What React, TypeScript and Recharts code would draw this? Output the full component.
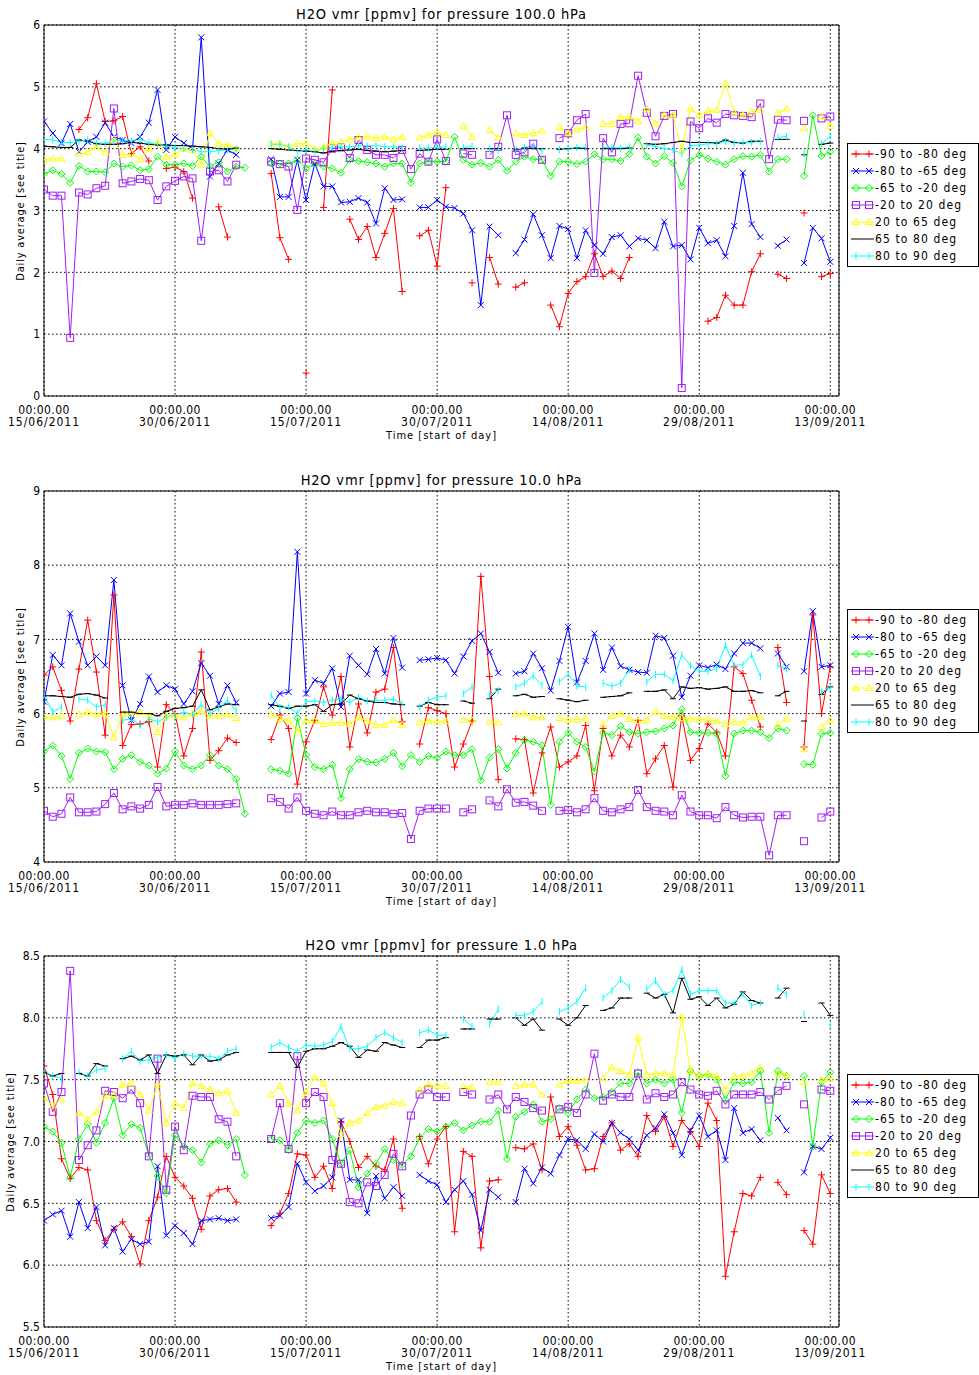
import React from "react";
import { LineChart, Line, XAxis, YAxis, CartesianGrid, ReferenceArea } from "recharts";

const FONT = "'DejaVu Sans Condensed', 'DejaVu Sans', sans-serif";

// days since 15/06/2011 (start of day)
const days = Array.from({ length: 91 }, (_, i) => i);
const tickDays = [0, 15, 30, 45, 60, 75, 90];
const tickDates = ["15/06/2011", "30/06/2011", "15/07/2011", "30/07/2011", "14/08/2011", "29/08/2011", "13/09/2011"];

const bandLabels = ["-90 to -80 deg", "-80 to -65 deg", "-65 to -20 deg", "-20 to 20 deg", "20 to 65 deg", "65 to 80 deg", "80 to 90 deg"];
const bandColors = ["#ff0000", "#0000ff", "#00ff00", "#a020f0", "#ffff00", "#000000", "#00ffff"];
const bandMarkers = ["plus", "cross", "diamond", "square", "triangle", "dash", "bar"];

const _ = null;

// ---- 100 hPa ----
const red100 = [
  _, _, _, _, 4.31, 4.5, 5.05, 4.44, 4.45, 4.52,
  3.92, 4.03, 3.8, _, 3.68, 3.7, 3.63, 3.2, _, _,
  3.06, 2.57, _, _, _, _, 3.6, 2.56, 2.21, _,
  0.37, _, 3.05, 4.95, _, 2.86, 2.53, 2.74, 2.24, 2.63,
  3.03, 1.69, _, 2.59, 2.68, 2.1, 3.37, _, _, 1.83,
  _, 2.24, 1.81, _, 1.76, 1.83, _, _, 1.47, 1.12,
  1.66, 1.85, 1.93, 2.3, 1.93, 2.02, 1.9, 2.24, _, _,
  _, _, _, _, _, _, 1.21, 1.27, 1.63, 1.47,
  1.47, 2.01, 2.3, _, 1.97, 1.9, _, 2.96, _, 1.93, 1.98,
];
const blue100 = [
  4.44, 4.25, 4.09, 4.4, 3.95, 4.11, 4.19, 4.42, 4.19, 4.14,
  4.09, 4.19, 4.42, 4.95, 3.98, 4.19, 4.09, 4.0, 5.8, 3.55,
  3.76, 3.98, 3.9, _, _, _, 3.83, 3.22, 3.22, 3.82,
  3.17, 3.76, 3.39, 3.39, 3.13, 3.14, 3.2, 3.13, 2.79, 3.36,
  3.17, 3.18, _, 3.05, 3.05, 3.17, 3.06, 3.04, 2.95, 2.68,
  1.47, 2.74, 2.6, _, 2.31, 2.53, 2.94, 2.6, 2.23, 2.75,
  2.7, 2.23, 2.68, 2.44, 2.3, 2.57, 2.6, 2.42, 2.55, 2.52,
  2.39, 2.82, 2.42, 2.44, 2.21, 2.72, 2.47, 2.52, 2.26, 2.75,
  3.61, 2.78, 2.57, _, 2.43, 2.53, _, 2.15, 2.72, 2.55, 2.17,
];
const green100 = [
  3.59, 3.65, 3.59, 3.45, 3.72, 3.63, 3.63, 3.62, 3.76, 3.71,
  3.73, 3.65, 3.67, 3.87, 3.74, 3.74, 3.76, 3.72, 3.87, 3.71,
  3.78, 3.63, 3.71, 3.69, _, _, 3.76, 3.76, 3.76, 3.82,
  3.68, 3.76, 3.71, 3.68, 3.61, 3.82, 3.8, 3.78, 3.76, 3.71,
  3.76, 3.76, 3.45, 3.76, 3.79, 3.79, 3.79, 4.19, 3.82, 3.74,
  3.77, 3.71, 3.82, 3.64, 3.79, 3.87, 3.83, 3.82, 3.56, 3.79,
  3.79, 3.75, 3.79, 3.91, 3.83, 3.83, 3.8, 3.91, 4.18, 3.87,
  3.76, 3.88, 3.77, 3.39, 3.81, 3.9, 3.84, 3.79, 3.74, 3.83,
  3.88, 3.87, 3.9, 3.63, 3.83, 3.83, _, 3.56, 4.54, 3.88, 3.95,
];
const purple100 = [
  3.34, 3.24, 3.24, 0.94, 3.29, 3.26, 3.36, 3.4, 4.65, 3.44,
  3.47, 3.51, 3.49, 3.17, 3.39, 3.48, 3.55, 3.52, 2.51, 3.63,
  3.65, 3.47, 3.74, _, _, _, 3.79, 3.75, 3.71, 3.01,
  3.84, 3.82, 3.78, 4.0, 4.02, 3.85, 4.14, 3.98, 3.9, 3.9,
  3.85, 3.98, 3.67, 3.92, 3.79, 4.15, 3.8, _, 3.92, 3.9,
  _, 3.9, 4.03, 4.54, 3.9, 3.94, 4.08, 3.82, _, 4.17,
  4.25, 4.46, 4.56, 1.99, 4.17, 3.94, 4.4, 4.41, 5.18, 4.58,
  4.2, 4.53, 4.56, 0.13, 4.44, 4.33, 4.49, 4.42, 4.56, 4.54,
  4.53, 4.51, 4.73, 3.83, 4.47, 4.46, _, 4.45, _, 4.49, 4.52,
];
const yellow100 = [
  3.82, 3.84, 3.84, _, 3.92, 3.95, 4.03, 3.94, 4.15, 3.9,
  3.92, 3.83, 4.0, 4.11, 3.87, 3.9, 4.0, 3.98, 3.74, 4.25,
  4.08, 4.06, 4.0, _, _, _, 4.08, 4.08, 4.03, 4.08,
  4.08, 4.0, 4.03, 4.09, 4.11, 4.15, 4.18, 4.2, 4.17, 4.19,
  4.15, 4.19, _, 4.18, 4.22, 4.27, 4.22, _, 4.37, 4.19,
  _, 4.3, 4.18, _, 4.25, 4.22, 4.25, 4.29, _, 4.35,
  4.25, 4.31, 4.35, _, 4.4, 4.4, 4.51, 4.52, 4.44, 4.64,
  4.4, 4.54, 4.54, 3.97, 4.65, 4.54, 4.61, 4.63, 5.06, 4.58,
  4.54, 4.6, 4.63, _, 4.58, 4.65, _, 4.33, _, 4.52, 4.37,
];
const black100 = [
  4.04, 4.03, 4.02, 4.02, 4.14, 4.12, 4.08, 4.07, 4.07, 4.08,
  4.1, 4.09, 4.07, 4.06, 4.06, 4.05, 4.05, 4.04, 4.03, 4.02,
  4.0, 3.99, 4.01, _, _, _, 4.0, 3.99, 3.98, 3.97,
  3.96, 3.95, 3.93, 3.96, 3.97, 3.98, 3.99, 3.97, 3.96, 3.95,
  3.96, 3.97, _, 3.97, 3.98, 3.99, 3.99, _, 4.0, 4.0,
  _, 4.0, 4.0, _, 3.98, 4.01, 4.0, 4.0, _, 3.99,
  4.0, 4.01, 4.0, _, 4.0, 4.0, 4.0, 4.01, _, 4.08,
  4.07, 4.08, 4.1, 4.12, 4.1, 4.1, 4.1, 4.09, 4.14, 4.1,
  4.09, 4.12, 4.12, _, 4.15, 4.15, _, 3.9, _, 4.07, 4.09,
];
const cyan100 = [
  4.15, 4.14, 4.1, 4.1, 4.12, 4.14, 4.09, 4.09, 4.12, 4.14,
  4.12, 4.15, 4.1, 4.07, 4.04, 4.02, 4.0, 3.98, 3.95, 3.95,
  3.97, 3.98, 3.99, _, _, _, 4.07, 4.07, 4.03, 3.95,
  3.98, 3.96, 4.0, 4.02, 4.03, 4.03, 4.05, 4.04, 4.05, 4.03,
  4.03, 4.02, _, 4.01, 4.01, 4.02, 4.03, _, 4.02, 4.04,
  _, 4.0, 3.98, _, 3.98, 4.02, 4.05, 3.96, _, 3.98,
  4.0, 4.02, 4.02, _, 4.02, 4.02, 4.01, 4.03, _, 4.05,
  4.04, 4.0, 3.98, 3.92, 4.05, 4.06, 4.08, 4.08, 4.12, 4.09,
  4.1, 4.1, 4.12, _, 4.18, 4.2, _, 3.92, _, 4.08, 4.2,
];

// ---- 10 hPa ----
const red10 = [
  6.52, 6.63, 6.31, 5.9, 6.6, 7.26, 6.56, 5.71, 7.6, 5.57,
  5.85, 5.86, 5.89, 5.28, 6.12, 6.0, 5.43, 5.8, 6.83, 5.37,
  5.5, 5.67, 5.61, _, _, _, 5.65, 5.98, 5.8, 5.05,
  5.62, 5.91, 6.36, 5.98, 6.5, 5.55, 6.13, 5.74, 6.29, 6.33,
  6.89, 5.89, _, 5.59, 6.08, 6.04, 6.0, 5.28, 5.59, 5.9,
  7.85, 6.5, 5.11, _, 5.66, 5.65, 4.93, 5.47, 5.82, 5.28,
  5.35, 5.43, 5.84, 4.96, 5.8, 5.43, 5.71, 5.55, 5.91, 5.19,
  5.39, 5.57, 5.01, 5.97, 5.37, 5.53, 5.86, 5.75, 5.43, 6.63,
  6.54, 6.18, 5.82, _, 6.89, 6.15, _, 5.55, 7.33, 6.0, 6.63,
];
const blue10 = [
  6.16, 6.79, 6.65, 7.35, 6.97, 6.65, 6.77, 6.65, 7.8, 6.38,
  5.91, 6.13, 6.5, 6.29, 6.38, 6.33, 6.13, 6.3, 6.68, 6.51,
  6.13, 6.38, 6.15, _, _, _, 6.1, 6.27, 6.29, 8.18,
  6.27, 6.45, 6.41, 6.61, 6.09, 6.78, 6.65, 6.53, 6.87, 6.54,
  7.02, 6.62, _, 6.72, 6.73, 6.75, 6.72, 6.54, 6.77, 6.98,
  7.08, 6.83, 6.55, _, 6.54, 6.57, 6.81, 6.61, 6.31, 6.71,
  7.17, 6.42, 6.71, 7.08, 6.59, 6.89, 6.64, 6.59, 6.56, 6.55,
  7.05, 7.02, 6.78, 6.22, 6.51, 6.65, 6.62, 6.66, 6.6, 6.81,
  6.95, 6.95, 6.88, _, 6.81, 6.63, _, 6.57, 7.38, 6.63, 6.65,
];
const green10 = [
  5.49, 5.57, 5.43, 5.12, 5.47, 5.53, 5.49, 5.48, 5.25, 5.39,
  5.44, 5.35, 5.3, 5.19, 5.26, 5.49, 5.3, 5.25, 5.3, 5.44,
  5.3, 5.25, 5.12, 4.65, _, _, 5.25, 5.23, 5.19, 5.94,
  5.44, 5.28, 5.25, 5.31, 4.86, 5.25, 5.39, 5.35, 5.34, 5.39,
  5.47, 5.29, 5.44, 5.35, 5.43, 5.4, 5.49, 5.44, 5.44, 5.52,
  5.1, 5.41, 5.52, 5.26, 5.47, 5.64, 5.62, 5.57, 4.77, 5.62,
  5.74, 5.62, 5.55, 5.22, 5.74, 5.71, 5.83, 5.75, 5.73, 5.75,
  5.76, 5.8, 5.84, 6.06, 5.75, 5.74, 5.74, 5.73, 5.16, 5.73,
  5.77, 5.77, 5.75, 5.67, 5.8, 5.77, _, 5.32, 5.31, 5.73, 5.74,
];
const purple10 = [
  4.69, 4.61, 4.65, 4.87, 4.67, 4.67, 4.68, 4.78, 4.93, 4.71,
  4.75, 4.72, 4.77, 5.01, 4.75, 4.77, 4.77, 4.79, 4.77, 4.77,
  4.77, 4.78, 4.79, _, _, _, 4.86, 4.81, 4.72, 4.87,
  4.69, 4.65, 4.63, 4.68, 4.63, 4.63, 4.67, 4.69, 4.67, 4.67,
  4.65, 4.66, 4.31, 4.69, 4.72, 4.72, 4.72, _, 4.67, 4.71,
  _, 4.83, 4.75, 4.98, 4.8, 4.81, 4.76, 4.69, _, 4.69,
  4.7, 4.67, 4.71, 4.86, 4.69, 4.67, 4.71, 4.74, 4.97, 4.74,
  4.69, 4.68, 4.63, 4.9, 4.68, 4.63, 4.63, 4.59, 4.74, 4.63,
  4.6, 4.61, 4.61, 4.09, 4.63, 4.63, _, 4.28, _, 4.6, 4.68,
];
const yellow10 = [
  5.95, 5.95, 5.97, _, 5.99, 6.02, 5.99, 6.0, 5.68, 5.99,
  6.0, 6.02, 5.98, 5.75, 5.97, 5.97, 5.95, 6.0, 6.03, 5.97,
  5.97, 5.99, 5.94, _, _, _, 5.99, 5.93, 5.91, 5.76,
  5.91, 5.9, 5.86, 5.88, 5.88, 5.86, 5.95, 5.9, 5.85, 5.85,
  5.91, 5.85, _, 5.88, 5.9, 5.89, 5.9, _, 5.92, 5.91,
  _, 5.89, 5.88, _, 5.99, 6.0, 5.95, 5.95, _, 5.94,
  5.91, 5.92, 5.93, _, 5.86, 5.97, 6.0, 5.93, 5.9, 5.91,
  6.03, 5.97, 5.95, 5.94, 5.93, 5.92, 5.92, 5.9, 5.86, 5.89,
  5.88, 5.95, 5.95, _, 5.85, 5.93, _, 5.52, _, 5.82, 5.91,
];
const black10 = [
  6.24, 6.24, 6.23, 6.22, 6.26, 6.27, 6.25, 6.21, _, 6.02,
  6.02, 6.0, 6.0, 5.97, 6.03, 6.07, 6.08, 6.1, 6.32, 6.05,
  6.09, 6.13, 6.12, _, _, _, 6.12, 6.1, 6.07, 6.1,
  6.1, 6.12, 6.03, 6.12, 6.13, 6.25, 6.2, 6.17, 6.15, 6.15,
  6.13, 6.12, _, 6.1, 6.15, 6.12, 6.12, _, 6.17, 6.14,
  _, 6.2, 6.33, _, 6.24, 6.26, 6.22, 6.23, _, 6.2,
  6.18, 6.16, 6.18, _, 6.22, 6.23, 6.24, 6.28, _, 6.3,
  6.3, 6.32, 6.2, 6.36, 6.34, 6.35, 6.33, 6.34, 6.36, 6.3,
  6.3, 6.31, 6.28, _, 6.24, 6.3, _, 5.9, _, 6.26, 6.36,
];
const cyan10 = [
  6.25, 6.02, 6.09, _, 6.2, 6.18, 6.09, 6.12, _, 5.91,
  5.93, 5.84, 5.93, 5.89, 5.95, 5.98, 6.02, 5.99, 6.12, 6.0,
  6.07, 6.18, 6.04, _, _, _, 6.25, 6.08, 6.09, 6.0,
  6.16, 6.17, 6.15, 6.18, 6.2, 6.15, 6.22, 6.17, 6.18, 6.18,
  6.19, 6.13, _, 6.09, 6.18, 6.22, 6.24, _, 6.27, 6.36,
  _, 6.25, 6.31, _, 6.36, 6.41, 6.51, 6.38, _, 6.43,
  6.53, 6.37, 6.36, _, 6.41, 6.37, 6.41, 6.59, _, 6.43,
  6.53, 6.53, 6.44, 6.79, 6.65, 6.57, 6.57, 6.61, 6.92, 6.65,
  6.66, 6.79, 6.5, _, 6.65, 6.6, _, _, _, 6.29, 6.35,
];

// ---- 1 hPa ----
const red1 = [
  7.61, 7.38, 6.86, 6.7, 6.79, 6.77, 6.36, 6.2, 6.29, 6.35,
  6.23, 6.01, 6.36, 6.55, 6.88, 6.71, 6.64, 6.54, 6.29, 6.56,
  6.61, 6.62, 6.51, _, _, _, 6.32, 6.42, 6.58, 6.9,
  6.89, 6.71, 6.8, 6.62, 7.16, 7.0, 6.79, 6.88, 6.8, 6.77,
  7.02, 6.46, _, 7.04, 6.82, 7.02, 7.12, 6.27, 6.92, 6.88,
  6.14, 6.68, 6.69, _, 6.95, 6.94, 6.98, 6.77, 7.36, 7.04,
  7.12, 6.97, 6.77, 6.78, 7.04, 7.15, 6.93, 6.98, 6.88, 7.21,
  7.08, 7.2, 6.96, 7.17, 7.08, 6.96, 7.31, 7.17, 5.91, 6.27,
  6.58, 6.56, 6.71, _, 6.67, 6.57, _, 6.28, 6.17, 6.73, 6.58,
];
const blue1 = [
  6.36, 6.41, 6.44, 6.23, 6.51, 6.3, 6.47, 6.16, 6.3, 6.11,
  6.21, 6.17, 6.19, 6.8, 6.24, 6.32, 6.26, 6.17, 6.36, 6.37,
  6.38, 6.36, 6.37, _, _, _, 6.38, 6.4, 6.47, 6.82,
  6.67, 6.6, 6.64, 6.71, 7.17, 6.69, 6.69, 6.42, 6.72, 6.54,
  6.63, 6.56, _, 6.73, 6.68, 6.65, 6.51, 6.61, 6.68, 6.57,
  6.28, 6.61, 6.55, _, 6.51, 6.78, 6.66, 6.79, 6.74, 6.89,
  7.02, 7.01, 6.94, 7.06, 7.0, 7.15, 7.07, 7.02, 6.93, 7.05,
  7.11, 7.22, 7.07, 6.89, 7.09, 7.21, 7.04, 7.09, 6.85, 7.27,
  7.07, 7.1, 7.01, _, 7.19, 7.09, _, 6.75, 6.96, 6.94, 7.03,
];
const green1 = [
  7.12, 7.08, 6.99, 6.71, 7.02, 7.14, 6.99, 7.15, 7.35, 7.05,
  7.14, 7.11, 6.89, 6.72, 6.58, 7.05, 6.96, 6.93, 6.83, 6.98,
  7.01, 6.97, 7.02, 6.73, _, _, 7.02, 7.01, 6.93, 7.07,
  7.17, 7.15, 7.17, 7.02, 6.82, 6.93, 6.63, 6.74, 6.82, 6.94,
  6.85, 6.81, 6.88, 7.03, 7.1, 7.08, 7.12, 7.15, 7.09, 7.13,
  7.16, 7.16, 7.25, 6.86, 7.2, 7.24, 7.3, 7.16, 7.18, 7.27,
  7.23, 7.34, 7.42, 7.35, 7.36, 7.4, 7.47, 7.47, 7.56, 7.47,
  7.5, 7.47, 7.5, 7.23, 7.57, 7.53, 7.54, 7.5, 7.34, 7.48,
  7.47, 7.48, 7.57, 7.07, 7.57, 7.53, _, 7.53, 6.96, 7.48, 7.56,
];
const purple1 = [
  7.47, 7.24, 7.4, 8.38, 6.85, 6.97, 7.09, 7.41, 7.4, 7.35,
  7.42, 7.31, 6.88, 7.67, 6.61, 7.12, 6.93, 7.37, 7.36, 7.36,
  7.18, 7.16, 6.88, _, _, _, 7.02, 7.31, 6.94, 7.69,
  7.31, 7.4, 7.36, 6.85, 6.82, 6.51, 6.5, 6.67, 6.64, 6.73,
  6.9, 6.8, 7.21, 7.38, 7.42, 7.36, 7.36, _, 7.4, 7.38,
  _, 7.34, 7.38, 7.26, 7.36, 7.32, 7.27, 7.25, _, 7.26,
  7.28, 7.23, 7.38, 7.71, 7.33, 7.38, 7.36, 7.36, 7.55, 7.34,
  7.39, 7.36, 7.38, 7.48, 7.42, 7.38, 7.37, 7.41, 7.3, 7.38,
  7.38, 7.38, 7.4, 7.34, 7.41, 7.45, _, 7.3, _, 7.42, 7.41,
];
const yellow1 = [
  7.35, 7.29, 7.34, _, 7.23, 7.18, 7.24, 7.37, 7.38, 7.46,
  7.47, 7.38, 7.25, 7.46, 7.15, 7.31, 7.27, 7.47, 7.45, 7.42,
  7.39, 7.41, 7.23, _, _, _, 7.38, 7.45, 7.31, 7.25,
  7.4, 7.52, 7.47, 7.31, 7.06, 7.15, 7.17, 7.23, 7.28, 7.29,
  7.32, 7.31, _, 7.42, 7.46, 7.45, 7.45, _, 7.44, 7.44,
  _, 7.48, 7.48, _, 7.45, 7.46, 7.46, 7.38, _, 7.46,
  7.49, 7.49, 7.5, _, 7.51, 7.6, 7.57, 7.54, 7.84, 7.54,
  7.55, 7.55, 7.54, 8.01, 7.57, 7.53, 7.55, 7.53, 7.42, 7.53,
  7.53, 7.55, 7.6, _, 7.55, 7.54, _, 7.48, _, 7.5, 7.51,
];
const black1 = [
  7.56, 7.53, 7.55, _, 7.55, 7.53, 7.63, 7.61, _, 7.67,
  7.69, 7.66, 7.7, 7.55, 7.7, 7.69, 7.7, 7.62, 7.7, 7.65,
  7.66, 7.7, 7.72, _, _, _, 7.72, 7.72, 7.72, 7.6,
  7.73, 7.75, 7.75, 7.77, 7.8, 7.77, 7.68, 7.74, 7.73, 7.8,
  7.78, 7.76, _, 7.76, 7.82, 7.82, 7.84, _, 7.91, 7.91,
  _, 7.99, 7.99, _, 8.0, 7.94, 7.99, 7.9, _, 7.99,
  7.94, 8.0, 8.1, _, 8.06, 8.08, 8.16, 8.16, _, 8.2,
  8.16, 8.19, 8.04, 8.32, 8.15, 8.17, 8.1, 8.16, 8.08, 8.11,
  8.21, 8.14, 8.12, _, 8.16, 8.24, _, 7.97, _, 8.12, 8.02,
];
const cyan1 = [
  7.57, 7.53, 7.51, _, 7.56, 7.53, 7.58, 7.59, _, 7.67,
  7.73, 7.65, 7.66, 7.68, 7.7, 7.67, 7.71, 7.69, 7.69, 7.69,
  7.67, 7.73, 7.75, _, _, _, 7.76, 7.8, 7.76, 7.73,
  7.78, 7.77, 7.78, 7.81, 7.93, 7.75, 7.75, 7.77, 7.84, 7.88,
  7.84, 7.8, _, 7.88, 7.9, 7.86, 7.86, _, 7.99, 7.93,
  _, 7.95, 8.07, _, 8.02, 8.02, 8.05, 8.13, _, 8.05,
  8.08, 8.13, 8.24, _, 8.16, 8.22, 8.31, 8.25, _, 8.23,
  8.3, 8.19, 8.22, 8.39, 8.19, 8.22, 8.22, 8.22, 8.12, 8.12,
  8.19, 8.1, 8.12, _, 8.24, 8.19, _, 8.03, _, _, 7.94,
];

const panels = [
  {
    title: "H2O vmr [ppmv] for pressure 100.0 hPa",
    top: 0,
    domain: [0, 6],
    ticks: [0, 1, 2, 3, 4, 5, 6],
    decimals: 0,
    labelX: 20,
    series: [red100, blue100, green100, purple100, yellow100, black100, cyan100],
  },
  {
    title: "H2O vmr [ppmv] for pressure 10.0 hPa",
    top: 466,
    domain: [4, 9],
    ticks: [4, 5, 6, 7, 8, 9],
    decimals: 0,
    labelX: 20,
    series: [red10, blue10, green10, purple10, yellow10, black10, cyan10],
  },
  {
    title: "H2O vmr [ppmv] for pressure 1.0 hPa",
    top: 931,
    domain: [5.5, 8.5],
    ticks: [5.5, 6.0, 6.5, 7.0, 7.5, 8.0, 8.5],
    decimals: 1,
    labelX: 10,
    series: [red1, blue1, green1, purple1, yellow1, black1, cyan1],
  },
];

function Marker({ kind, color, x, y }: { kind: string; color: string; x: number; y: number }) {
  const p = { stroke: color, strokeWidth: 1, fill: "none" };
  switch (kind) {
    case "plus":
      return <path {...p} d={`M${x - 3.5},${y}H${x + 3.5}M${x},${y - 3.5}V${y + 3.5}`} />;
    case "cross":
      return <path {...p} d={`M${x - 3},${y - 3}L${x + 3},${y + 3}M${x - 3},${y + 3}L${x + 3},${y - 3}`} />;
    case "diamond":
      return <path {...p} d={`M${x},${y - 3.5}L${x + 3.5},${y}L${x},${y + 3.5}L${x - 3.5},${y}Z`} />;
    case "square":
      return <rect {...p} x={x - 3.5} y={y - 3.5} width={7} height={7} />;
    case "triangle":
      return <path {...p} d={`M${x - 3.5},${y + 2.5}L${x + 3.5},${y + 2.5}L${x},${y - 3.5}Z`} />;
    case "dash":
      return <path {...p} d={`M${x - 3},${y}H${x + 3}`} />;
    case "bar":
      return <path {...p} d={`M${x},${y - 3.5}V${y + 3.5}`} />;
    default:
      return null;
  }
}

function makeDot(kind: string, color: string) {
  return (props: any) => {
    const { cx, cy, value, index } = props;
    if (value == null || cy == null || cx == null || Number.isNaN(cy)) return <g key={`d${index}`} />;
    return (
      <g key={`d${index}`}>
        <Marker kind={kind} color={color} x={cx} y={cy} />
      </g>
    );
  };
}

function DateTick(props: any) {
  const { x, y, payload } = props;
  const i = tickDays.indexOf(payload.value);
  return (
    <text x={x} y={y} textAnchor="middle" fontFamily={FONT} fontSize={12} fill="#000">
      <tspan x={x} dy={18} letterSpacing={0.4}>00:00.00</tspan>
      <tspan x={x} dy={12} letterSpacing={1}>{tickDates[i]}</tspan>
    </text>
  );
}

function LegendBox({ top }: { top: number }) {
  return (
    <div
      style={{
        position: "absolute",
        left: 847,
        top: top + 143,
        width: 132,
        height: 124,
        boxSizing: "border-box",
        border: "1px solid #000",
        background: "#fff",
      }}
    >
      <svg width={130} height={122} style={{ display: "block" }}>
        {bandLabels.map((label, k) => {
          const y = 10 + k * 17;
          return (
            <g key={label}>
              <path d={`M3,${y}H26`} stroke={bandColors[k]} strokeWidth={1} />
              {bandMarkers[k] !== "dash" && (
                <>
                  <Marker kind={bandMarkers[k]} color={bandColors[k]} x={8} y={y} />
                  <Marker kind={bandMarkers[k]} color={bandColors[k]} x={21} y={y} />
                </>
              )}
              <text x={27} y={y + 4} fontFamily={FONT} fontSize={12} letterSpacing={1.1} fill="#000">
                {label}
              </text>
            </g>
          );
        })}
      </svg>
    </div>
  );
}

function Panel({ panel }: { panel: (typeof panels)[number] }) {
  const rows = days.map((d) => {
    const row: Record<string, number | null> = { day: d };
    panel.series.forEach((s, k) => {
      row[`s${k}`] = s[d];
    });
    return row;
  });
  const [yMin, yMax] = panel.domain;
  return (
    <>
      <div
        style={{
          position: "absolute",
          left: 0,
          width: 883,
          top: panel.top + 6,
          textAlign: "center",
          fontFamily: FONT,
          fontSize: 14.5,
          letterSpacing: 0.8,
          lineHeight: "16px",
          whiteSpace: "pre",
        }}
      >
        {panel.title}
      </div>
      <div
        style={{
          position: "absolute",
          left: panel.labelX,
          top: panel.top + 211,
          transform: "translate(-50%, -50%) rotate(-90deg)",
          fontFamily: FONT,
          fontSize: 11,
          letterSpacing: 0.8,
          whiteSpace: "nowrap",
        }}
      >
        Daily average [see title]
      </div>
      <div
        style={{
          position: "absolute",
          left: 0,
          width: 883,
          top: panel.top + 429,
          textAlign: "center",
          fontFamily: FONT,
          fontSize: 11,
          letterSpacing: 1,
          lineHeight: "14px",
        }}
      >
        Time [start of day]
      </div>
      <div style={{ position: "absolute", left: 0, top: panel.top }}>
        <LineChart width={979} height={466} data={rows} margin={{ top: 25, right: 140, bottom: 30, left: 0 }}>
          <CartesianGrid stroke="#000" strokeDasharray="1.5 2.5" strokeWidth={1} />
          <XAxis
            dataKey="day"
            type="number"
            domain={[0, 91]}
            ticks={tickDays}
            allowDataOverflow
            axisLine={false}
            tickLine={false}
            tickSize={0}
            tickMargin={0}
            height={40}
            tick={<DateTick />}
            interval={0}
          />
          <YAxis
            type="number"
            domain={[yMin, yMax]}
            ticks={panel.ticks}
            allowDataOverflow
            axisLine={false}
            tickLine={false}
            tickSize={0}
            tickMargin={4}
            width={44}
            interval={0}
            tickFormatter={(v: number) => v.toFixed(panel.decimals)}
            tick={{ fontSize: 12, fontFamily: FONT, fill: "#000" }}
          />
          <ReferenceArea x1={0} x2={91} y1={yMin} y2={yMax} fill="none" stroke="#000" strokeWidth={1} ifOverflow="visible" />
          {bandLabels.map((label, k) => (
            <Line
              key={label}
              type="linear"
              dataKey={`s${k}`}
              name={label}
              stroke={bandColors[k]}
              strokeWidth={1}
              dot={makeDot(bandMarkers[k], bandColors[k])}
              activeDot={false}
              connectNulls={false}
              isAnimationActive={false}
            />
          ))}
        </LineChart>
      </div>
      <LegendBox top={panel.top} />
    </>
  );
}

export default function App() {
  return (
    <div style={{ position: "absolute", left: 0, top: 0, width: 979, height: 1375, background: "#fff", overflow: "hidden" }}>
      {panels.map((p) => (
        <Panel key={p.title} panel={p} />
      ))}
    </div>
  );
}
